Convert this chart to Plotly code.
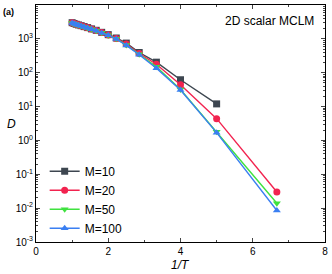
import plotly.graph_objects as go

inv_T = [1.0, 1.053, 1.111, 1.176, 1.25, 1.333, 1.429, 1.538, 1.667, 1.818, 2.0, 2.222, 2.5, 2.857, 3.333, 4.0, 5.0, 6.667]

D_M10 = [3000, 2850, 2700, 2580, 2450, 2300, 2150, 1970, 1790, 1560, 1330, 1060, 750, 395, 205, 62, 12.0, None]
D_M20 = [2970, 2820, 2680, 2550, 2420, 2270, 2120, 1940, 1760, 1530, 1300, 1030, 700, 370, 178, 44, 4.4, 0.030]
D_M50 = [2950, 2800, 2660, 2530, 2400, 2250, 2100, 1920, 1740, 1510, 1280, 1000, 660, 350, 150, 32, 1.8, 0.014]
D_M100 = [2940, 2790, 2650, 2520, 2390, 2240, 2090, 1910, 1730, 1500, 1270, 990, 640, 340, 135, 31, 1.7, 0.0085]

series = [
    ("M=10", D_M10, "#3d4650", "square"),
    ("M=20", D_M20, "#f2234f", "circle"),
    ("M=50", D_M50, "#3fe23f", "triangle-down"),
    ("M=100", D_M100, "#3a7ff2", "triangle-up"),
]

y_tickvals = [1e-3, 1e-2, 1e-1, 1, 10, 100, 1000, 10000]
y_ticktext = ["10<sup>-3</sup>", "10<sup>-2</sup>", "10<sup>-1</sup>", "10<sup>0</sup>",
              "10<sup>1</sup>", "10<sup>2</sup>", "10<sup>3</sup>", "10<sup>4</sup>"]

fig = go.Figure()
for name, ys, color, sym in series:
    xs = [x for x, y in zip(inv_T, ys) if y is not None]
    yy = [y for y in ys if y is not None]
    fig.add_trace(go.Scatter(x=xs, y=yy, mode="lines+markers", name=name,
                             line=dict(color=color, width=1.4),
                             marker=dict(symbol=sym, size=7, color=color)))

font = "Liberation Sans, Arial, sans-serif"
fig.update_layout(
    width=332, height=274,
    margin=dict(l=36, r=4, t=5, b=32),
    plot_bgcolor="white", paper_bgcolor="white",
    font=dict(family=font, size=10, color="black"),
    showlegend=True,
    legend=dict(x=0.03, y=0.36, xanchor="left", yanchor="top",
                bgcolor="rgba(0,0,0,0)", font=dict(size=12),
                tracegroupgap=0, itemwidth=30),
    xaxis=dict(range=[0, 8], tickvals=[0, 2, 4, 6, 8], ticks="inside", ticklen=4,
               minor=dict(tickvals=[1, 3, 5, 7], ticks="inside", ticklen=2),
               showline=True, linecolor="black", linewidth=1, mirror="ticks",
               showgrid=False, zeroline=False),
    yaxis=dict(type="log", range=[-3, 4], tickvals=y_tickvals, ticktext=y_ticktext,
               ticks="inside", ticklen=4,
               minor=dict(ticks="inside", ticklen=2, dtick="D1"),
               showline=True, linecolor="black", linewidth=1, mirror="ticks",
               showgrid=False, zeroline=False),
    annotations=[
        dict(text="2D scalar MCLM", xref="paper", yref="paper", x=0.97, y=0.97,
             xanchor="right", yanchor="top", showarrow=False, font=dict(size=12)),
        dict(text="<b>(a)</b>", xref="paper", yref="paper", x=-0.12, y=1.0,
             xanchor="left", yanchor="top", showarrow=False, font=dict(size=9)),
        dict(text="<i>D</i>", xref="paper", yref="paper", x=-0.085, y=0.5,
             xanchor="center", yanchor="middle", showarrow=False, font=dict(size=12)),
        dict(text="<i>1/T</i>", xref="paper", yref="paper", x=0.5, y=-0.095,
             xanchor="center", yanchor="middle", showarrow=False, font=dict(size=12)),
    ],
)
fig.write_html("out.html", config={"displayModeBar": False},
               post_script="document.body.style.margin='0';")
